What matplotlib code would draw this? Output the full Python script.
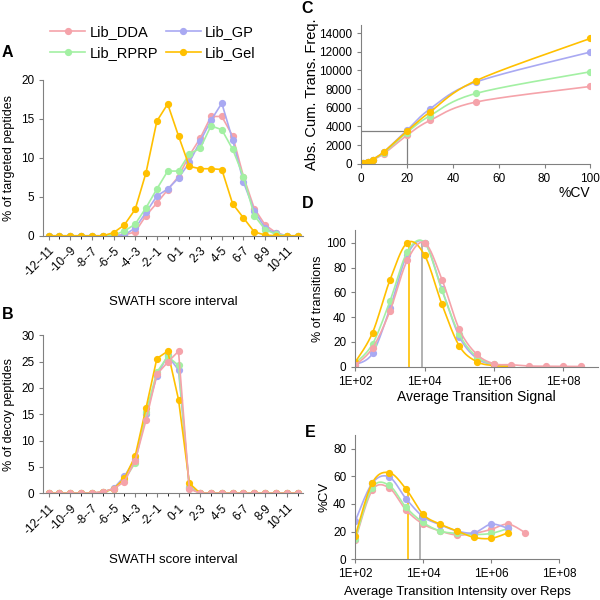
import numpy as np
import matplotlib
matplotlib.use("Agg")
import matplotlib.pyplot as plt
from matplotlib.ticker import FixedLocator, FuncFormatter

plt.rcParams['font.family'] = ['Liberation Sans', 'DejaVu Sans']
plt.rcParams['font.size'] = 8.5

# ---- data ----
series = ["Lib_DDA", "Lib_GP", "Lib_RPRP", "Lib_Gel"]
colors = ["#F5A3AA", "#A9A9F2", "#A3F0A3", "#FFC000"]

intervals = ["-12--11", "-11--10", "-10--9", "-9--8", "-8--7", "-7--6", "-6--5", "-5--4",
             "-4--3", "-3--2", "-2--1", "-1-0", "0-1", "1-2", "2-3", "3-4", "4-5", "5-6",
             "6-7", "7-8", "8-9", "9-10", "10-11", "11-12"]

# A: % of targeted peptides
a_dda = [0, 0, 0, 0, 0, 0, 0.1, 0.1, 0.5, 2.6, 4.2, 5.9, 7.6, 10.3, 12.5, 15.3, 15.3, 12.8, 7.6, 3.5, 1.4, 0.4, 0, 0]
a_gp = [0, 0, 0, 0, 0, 0, 0, 0.1, 1.0, 3.0, 5.1, 6.0, 7.4, 9.4, 12.1, 14.8, 17.0, 12.3, 6.9, 3.2, 1.0, 0.3, 0, 0]
a_rprp = [0, 0, 0, 0, 0, 0, 0.1, 0.6, 1.5, 3.6, 6.0, 8.3, 8.3, 10.5, 11.2, 14.1, 13.6, 11.1, 7.6, 2.6, 0.8, 0.2, 0, 0]
a_gel = [0, 0, 0, 0, 0, 0, 0.4, 1.4, 3.4, 8.1, 14.7, 16.9, 12.8, 8.9, 8.6, 8.6, 8.5, 4.1, 2.3, 0.5, 0.1, 0, 0, 0]

# B: % of decoy peptides
b_dda = [0, 0, 0, 0, 0, 0.3, 0.8, 2.2, 6.2, 13.9, 22.6, 24.9, 27.0, 0.8, 0, 0, 0, 0, 0, 0, 0, 0, 0, 0]
b_gp = [0, 0, 0, 0, 0, 0.2, 0.9, 3.2, 6.5, 15.0, 22.3, 26.2, 23.4, 1.2, 0, 0, 0, 0, 0, 0, 0, 0, 0, 0]
b_rprp = [0, 0, 0, 0, 0, 0.2, 0.8, 2.5, 5.8, 15.5, 23.0, 26.0, 24.3, 1.0, 0, 0, 0, 0, 0, 0, 0, 0, 0, 0]
b_gel = [0, 0, 0, 0, 0, 0.2, 0.8, 2.8, 7.1, 16.2, 25.6, 27.0, 17.8, 1.9, 0, 0, 0, 0, 0, 0, 0, 0, 0, 0]

# C: cumulative transitions vs %CV
c_cv = [1, 2, 3, 5, 10, 20, 30, 50, 100]
c_dda = [40, 110, 200, 400, 1100, 3050, 4640, 6610, 8280]
c_gp = [50, 130, 230, 450, 1300, 3600, 5860, 8750, 11960]
c_rprp = [45, 120, 215, 430, 1200, 3350, 5140, 7530, 9850]
c_gel = [50, 130, 230, 460, 1300, 3500, 5540, 8890, 13420]
c_ref = (20, 3500)

# D: % of transitions vs signal
d_sig = [1e2, 3.16e2, 1e3, 3.16e3, 1e4, 3.16e4, 1e5, 3.16e5, 1e6, 3.16e6, 1e7, 3.16e7, 1e8, 3.16e8]
d_dda = [1.0, 15, 44.8, 85.8, 100, 70.3, 30.1, 10, 2.3, 1.5, 0.5, 0.3, 0.2, 0.1]
d_gp = [1.5, 10.7, 47, 90.4, 100, 62.3, 24.2, 6.7, 1.5, 0.5]
d_rprp = [2.5, 18.3, 52.8, 92.5, 100, 61.6, 26, 8, 2, 0.8]
d_gel = [3.5, 27.4, 69.8, 100, 89.9, 50.2, 16.6, 4.0, 0.8, 0.2]
d_ref_gel = 3600
d_ref_grey = 8300

# E: %CV vs intensity
e_int = [1e2, 3.16e2, 1e3, 3.16e3, 1e4, 3.16e4, 1e5, 3.16e5, 1e6, 3.16e6, 1e7]
e_dda = [13.7, 49.9, 51.6, 35.5, 25.4, 20.4, 17.5, 18.7, 21.6, 25.4, 19.2]
e_gp = [27.6, 55, 59.6, 43.7, 30.7, 25, 20.4, 19.2, 25.4, 22.3]
e_rprp = [14.6, 51.6, 53.5, 37.5, 26.6, 20.4, 18.7, 17.9, 18.7, 22.3]
e_gel = [16.8, 55.2, 62.7, 50.7, 32.4, 25.4, 20.4, 15.8, 15.1, 19.2]
e_ref_gel = (3600, 50)
e_ref_grey = (8300, 33)


def smooth(x, y, logx=False, n=20):
    # Excel-like smoothed line (Catmull-Rom through the points)
    x = np.log10(x) if logx else np.asarray(x, float)
    y = np.asarray(y, float)
    px = np.concatenate([[x[0]], x, [x[-1]]])
    py = np.concatenate([[y[0]], y, [y[-1]]])
    xs, ys = [], []
    t = np.linspace(0, 1, n)
    for i in range(1, len(px) - 2):
        for p, out in ((px, xs), (py, ys)):
            p0, p1, p2, p3 = p[i - 1], p[i], p[i + 1], p[i + 2]
            out.extend(0.5 * ((2 * p1) + (-p0 + p2) * t + (2 * p0 - 5 * p1 + 4 * p2 - p3) * t ** 2
                              + (-p0 + 3 * p1 - 3 * p2 + p3) * t ** 3))
    xs = np.array(xs)
    return (10 ** xs if logx else xs), np.array(ys)


def style(ax):
    for s in ["top", "right"]:
        ax.spines[s].set_visible(False)
    for s in ["left", "bottom"]:
        ax.spines[s].set_color("#808080")
    ax.tick_params(colors="#808080", labelcolor="black", length=3, labelsize=8.5)


fig = plt.figure(figsize=(6, 6), dpi=100)
MS = 4.2

# ---- A ----
ax = fig.add_axes([0.072, 0.607, 0.433, 0.26])
xi = np.arange(len(intervals))
handles = []
for vals, c, name in zip([a_dda, a_gp, a_rprp, a_gel], colors, series):
    h, = ax.plot(xi, vals, "-o", color=c, lw=1.2, ms=MS, label=name)
    handles.append(h)
ax.set_xlim(-0.5, len(intervals) - 0.5)
ax.set_ylim(0, 20)
ax.set_yticks([0, 5, 10, 15, 20])
ax.set_xticks(xi[::2])
ax.set_xticklabels(intervals[::2], rotation=45, ha="right", rotation_mode="anchor")
ax.xaxis.set_minor_locator(FixedLocator(xi))
ax.tick_params(axis="x", which="both", length=2)
style(ax)
ax.set_xlabel("SWATH score interval", fontsize=9.5, labelpad=12)
ax.set_ylabel("% of targeted peptides", fontsize=9)
fig.text(0.003, 0.905, "A", fontsize=11.5, fontweight="bold")

fig.legend([handles[0], handles[2], handles[1], handles[3]],
           [series[0], series[2], series[1], series[3]],
           ncol=2, loc="center", bbox_to_anchor=(0.255, 0.929), frameon=False,
           fontsize=10.5, handlelength=2.4, columnspacing=0.5, handletextpad=0.3,
           labelspacing=0.45)

# ---- B ----
ax = fig.add_axes([0.072, 0.178, 0.433, 0.263])
for vals, c in zip([b_gp, b_rprp, b_gel, b_dda], [colors[1], colors[2], colors[3], colors[0]]):
    ax.plot(xi, vals, "-o", color=c, lw=1.2, ms=MS)
ax.set_xlim(-0.5, len(intervals) - 0.5)
ax.set_ylim(0, 30)
ax.set_yticks(range(0, 31, 5))
ax.set_xticks(xi[::2])
ax.set_xticklabels(intervals[::2], rotation=45, ha="right", rotation_mode="anchor")
ax.xaxis.set_minor_locator(FixedLocator(xi))
ax.tick_params(axis="x", which="both", length=2)
style(ax)
ax.set_xlabel("SWATH score interval", fontsize=9.5, labelpad=12)
ax.set_ylabel("% of decoy peptides", fontsize=9)
fig.text(0.003, 0.469, "B", fontsize=11.5, fontweight="bold")

# ---- C ----
ax = fig.add_axes([0.602, 0.727, 0.382, 0.232])
ax.plot([0, c_ref[0], c_ref[0]], [c_ref[1], c_ref[1], 0], color="#808080", lw=0.9)
for vals, c in zip([c_dda, c_rprp, c_gp, c_gel], [colors[0], colors[2], colors[1], colors[3]]):
    sx, sy = smooth(c_cv, vals)
    ax.plot(sx, sy, color=c, lw=1.2)
    ax.plot(c_cv, vals, "o", color=c, ms=MS)
ax.set_xlim(0, 100)
ax.set_ylim(0, 14900)
ax.set_xticks(range(0, 101, 20))
ax.set_yticks(range(0, 14001, 2000))
style(ax)
ax.set_ylabel("Abs. Cum. Trans. Freq.", fontsize=10.5, labelpad=0)
ax.set_xlabel("%CV", fontsize=10, loc="right", labelpad=1)
fig.text(0.503, 0.978, "C", fontsize=11.5, fontweight="bold")

log_fmt = FuncFormatter(lambda v, p: "1E+%02d" % round(np.log10(v)))

# ---- D ----
ax = fig.add_axes([0.592, 0.389, 0.405, 0.227])
ax.plot([d_ref_gel, d_ref_gel], [0, 100], color="#FFC000", lw=1.2)
ax.plot([d_ref_grey, d_ref_grey], [0, 100], color="#A6A6A6", lw=1.2)
for vals, c in zip([d_gp, d_rprp, d_gel, d_dda], [colors[1], colors[2], colors[3], colors[0]]):
    xs = d_sig[:len(vals)]
    sx, sy = smooth(xs, vals, logx=True)
    ax.plot(sx, np.clip(sy, 0, None), color=c, lw=1.2)
    ax.plot(xs, vals, "o", color=c, ms=MS)
ax.set_xscale("log")
ax.set_xlim(1e2, 1e9)
ax.set_ylim(0, 110)
ax.set_yticks(range(0, 101, 20))
ax.xaxis.set_major_locator(FixedLocator([1e2, 1e4, 1e6, 1e8]))
ax.xaxis.set_major_formatter(log_fmt)
ax.xaxis.set_minor_locator(FixedLocator([]))
style(ax)
ax.set_xlabel("Average Transition Signal", fontsize=10, labelpad=2)
ax.set_ylabel("% of transitions", fontsize=9, labelpad=2)
fig.text(0.503, 0.653, "D", fontsize=11.5, fontweight="bold")

# ---- E ----
ax = fig.add_axes([0.592, 0.068, 0.34, 0.207])
ax.plot([e_ref_gel[0], e_ref_gel[0]], [0, e_ref_gel[1]], color="#FFC000", lw=1.2)
ax.plot([e_ref_grey[0], e_ref_grey[0]], [0, e_ref_grey[1]], color="#A6A6A6", lw=1.2)
for vals, c in zip([e_dda, e_rprp, e_gp, e_gel], [colors[0], colors[2], colors[1], colors[3]]):
    xs = e_int[:len(vals)]
    sx, sy = smooth(xs, vals, logx=True)
    ax.plot(sx, sy, color=c, lw=1.2)
    ax.plot(xs, vals, "o", color=c, ms=MS)
ax.set_xscale("log")
ax.set_xlim(1e2, 1e8)
ax.set_ylim(0, 90)
ax.set_yticks(range(0, 81, 20))
ax.xaxis.set_major_locator(FixedLocator([1e2, 1e4, 1e6, 1e8]))
ax.xaxis.set_major_formatter(log_fmt)
ax.xaxis.set_minor_locator(FixedLocator([]))
style(ax)
ax.set_xlabel("Average Transition Intensity over Reps", fontsize=9.5, labelpad=4)
ax.set_ylabel("%CV", fontsize=9.5, labelpad=2)
fig.text(0.508, 0.272, "E", fontsize=11.5, fontweight="bold")

fig.savefig("out.png", dpi=100)
